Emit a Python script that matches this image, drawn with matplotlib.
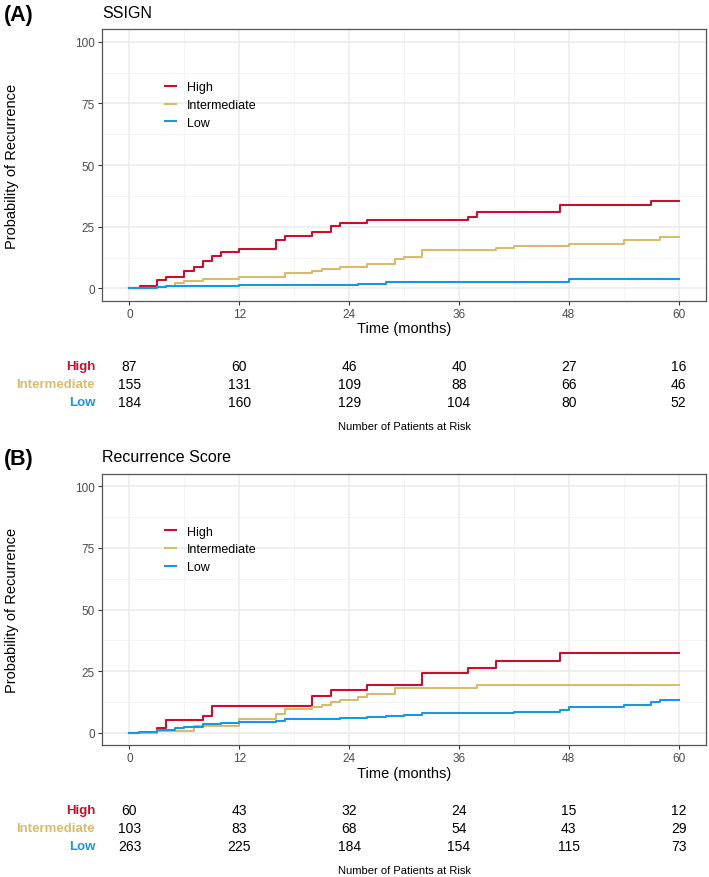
import matplotlib
matplotlib.use('Agg')
import matplotlib.pyplot as plt
from matplotlib import transforms
from matplotlib.ticker import MultipleLocator

plt.rcParams['font.family'] = ['Liberation Sans', 'DejaVu Sans']

groups = ['High', 'Intermediate', 'Low']
colors = ['#C8102E', '#D8BC6B', '#1A98DA']
risk_times = [0, 12, 24, 36, 48, 60]

# panel A: SSIGN
a_high_t = [0, 1.1, 3, 4, 6, 7, 8, 9, 10, 12, 16, 17, 20, 22, 23, 26, 37, 38, 47, 57, 60]
a_high_p = [0, 1.1, 3.6, 4.7, 7.0, 8.5, 11.2, 13.2, 14.9, 16.1, 19.8, 21.2, 22.7, 25.2, 26.6,
            27.8, 29.1, 30.8, 33.7, 35.6, 35.6]
a_int_t = [0, 3, 4, 5, 6, 8, 12, 17, 20, 21, 23, 26, 29, 30, 32, 40, 42, 48, 54, 58, 60]
a_int_p = [0, 0.6, 1.2, 2.4, 3.1, 4.0, 4.7, 6.1, 7.2, 7.8, 8.8, 10.1, 12.1, 12.7, 15.5,
           16.2, 17.3, 18.2, 19.7, 20.9, 20.9]
a_low_t = [0, 3, 4, 12, 25, 28, 48, 60]
a_low_p = [0, 0.4, 0.9, 1.3, 2.0, 2.8, 4.0, 4.0]
a_risk_high = [87, 60, 46, 40, 27, 16]
a_risk_int = [155, 131, 109, 88, 66, 46]
a_risk_low = [184, 160, 129, 104, 80, 52]

# panel B: Recurrence Score
b_high_t = [0, 3, 4, 8, 9, 20, 22, 26, 32, 37, 40, 47, 60]
b_high_p = [0, 1.9, 5.4, 7.0, 10.8, 14.9, 17.4, 19.5, 24.2, 26.5, 29.3, 32.4, 32.4]
b_int_t = [0, 3, 7, 12, 16, 17, 20, 21, 22, 23, 25, 26, 29, 38, 60]
b_int_p = [0, 0.9, 3.0, 5.7, 7.7, 9.7, 10.4, 11.5, 12.4, 13.5, 14.5, 15.8, 18.2, 19.6, 19.6]
b_low_t = [0, 1, 3, 5, 6, 8, 10, 12, 16, 17, 23, 26, 28, 30, 32, 42, 47, 48, 54, 57, 58, 60]
b_low_p = [0, 0.5, 1.2, 1.9, 2.6, 3.5, 3.9, 4.6, 5.0, 5.7, 6.1, 6.6, 7.0, 7.4, 8.0, 8.6,
           9.4, 10.7, 11.5, 12.4, 13.5, 13.5]
b_risk_high = [60, 43, 32, 24, 15, 12]
b_risk_int = [103, 83, 68, 54, 43, 29]
b_risk_low = [263, 225, 184, 154, 115, 73]

W, H = 709, 878
fig = plt.figure(figsize=(W / 100, H / 100), dpi=100)


def panel(top_px, tag, title, curves, risks):
    left, right = 102, 706
    bottom = top_px + 271.4
    ax = fig.add_axes([left / W, 1 - bottom / H, (right - left) / W, 271.4 / H])
    for (t, p), c, g in zip(curves, colors, groups):
        ax.step(t, p, where='post', color=c, lw=1.5, label=g)
    ax.set_xlim(-3, 63)
    ax.set_ylim(-5, 105)
    ax.xaxis.set_major_locator(MultipleLocator(12))
    ax.xaxis.set_minor_locator(MultipleLocator(6))
    ax.yaxis.set_major_locator(MultipleLocator(25))
    ax.yaxis.set_minor_locator(MultipleLocator(12.5))
    ax.grid(which='major', color='#EBEBEB', lw=1.1)
    ax.grid(which='minor', color='#F2F2F2', lw=0.6)
    ax.set_axisbelow(True)
    for s in ax.spines.values():
        s.set_color('#555555')
        s.set_linewidth(0.9)
    ax.tick_params(which='major', length=3, color='#333333', labelcolor='#4D4D4D',
                   labelsize=8.5, pad=2)
    ax.tick_params(which='minor', length=0)
    ax.set_xlabel('Time (months)', fontsize=10.5, labelpad=1)
    ax.set_ylabel('Probability of Recurrence', fontsize=10.5)
    ax.yaxis.set_label_coords(-83 / 604, 0.5)
    ax.legend(loc='upper left', bbox_to_anchor=(0.085, 0.85), frameon=False,
              handlelength=0.9, handletextpad=0.9, labelspacing=0.45, fontsize=9)

    fig.text(4 / W, 1 - (top_px - 15) / H, tag, fontsize=15.5, fontweight='bold',
             ha='left', va='center')
    fig.text(left / W, 1 - (top_px - 17) / H, title, fontsize=11.5, ha='left', va='center')

    tr = transforms.blended_transform_factory(ax.transData, fig.transFigure)
    row_y = [bottom + 65, bottom + 83, bottom + 101]
    for vals, c, g, y in zip(risks, colors, groups, row_y):
        fig.text(95 / W, 1 - y / H, g, color=c, fontweight='bold', fontsize=9.5,
                 ha='right', va='center')
        for t, v in zip(risk_times, vals):
            ax.text(t, 1 - y / H, str(v), transform=tr, fontsize=10,
                    ha='center', va='center')
    fig.text(404 / W, 1 - (bottom + 125) / H, 'Number of Patients at Risk',
             fontsize=8, ha='center', va='center')


panel(30.4, '(A)', 'SSIGN',
      [(a_high_t, a_high_p), (a_int_t, a_int_p), (a_low_t, a_low_p)],
      [a_risk_high, a_risk_int, a_risk_low])
panel(474.9, '(B)', 'Recurrence Score',
      [(b_high_t, b_high_p), (b_int_t, b_int_p), (b_low_t, b_low_p)],
      [b_risk_high, b_risk_int, b_risk_low])

fig.savefig('out.png', dpi=100)
